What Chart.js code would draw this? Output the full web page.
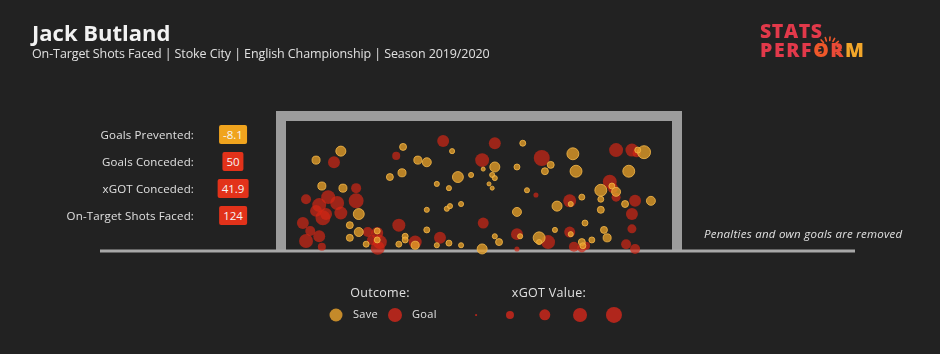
<!DOCTYPE html>
<html>
<head>
<meta charset="utf-8">
<script src="https://cdn.jsdelivr.net/npm/chart.js@4.4.1/dist/chart.umd.min.js"></script>
<style>
  body { margin:0; background:#222222; font-family:"Open Sans", sans-serif; color:#e8e8e8; }
  #wrap { position:relative; width:940px; height:354px; overflow:hidden; background:#222222; }
  #chart { position:absolute; left:0; top:0; }
  .t { position:absolute; white-space:nowrap; }
  .title { left:32px; top:17px; font-size:22px; font-weight:700; color:#f2f2f2; }
  .sub { left:32px; top:45px; font-size:12.5px; color:#e0e0e0; letter-spacing:-0.1px; }
  .lbl { right:746px; font-size:11.5px; line-height:16px; color:#e0e0e0; letter-spacing:0.15px; }
  .box { left:233px; transform:translateX(-50%); font-size:11.5px; line-height:19px; padding:0 4px; border-radius:2px; color:#f5f5f5; }
  .note { left:704px; top:226px; font-size:11.5px; font-style:italic; color:#e0e0e0; letter-spacing:0.25px; }
  .leg { font-size:12.5px; color:#e0e0e0; transform:translateX(-50%); letter-spacing:0.3px; }
  .dot { position:absolute; border-radius:50%; transform:translate(-50%,-50%); }
  .logo { left:760px; font-weight:800; font-size:19.5px; line-height:19px; }
</style>
</head>
<body>
<div id="wrap">
  <canvas id="chart" width="940" height="354"></canvas>

  <div class="t title">Jack Butland</div>
  <div class="t sub">On-Target Shots Faced | Stoke City | English Championship | Season 2019/2020</div>

  <svg class="t" style="left:814px;top:32px" width="32" height="32" viewBox="0 0 32 32">
    <g stroke="#f0582a" stroke-width="1.6" stroke-linecap="round" id="rays"></g>
  </svg>
  <div class="t logo" style="top:21px;color:#e2394a;letter-spacing:0.6px">STATS</div>
  <div class="t logo" style="top:40px;letter-spacing:1.6px"><span style="color:#e2394a">PERF</span><span style="color:#f0582a">O</span><span style="color:#ea4a38">R</span><span style="color:#f2a62a">M</span></div>

  <div class="t lbl" style="top:127px">Goals Prevented:</div>
  <div class="t lbl" style="top:154px">Goals Conceded:</div>
  <div class="t lbl" style="top:181px">xGOT Conceded:</div>
  <div class="t lbl" style="top:208px">On-Target Shots Faced:</div>
  <div class="t box" id="b0" style="top:125px;background:#f0a41e"></div>
  <div class="t box" id="b1" style="top:152px;background:#e2321a"></div>
  <div class="t box" id="b2" style="top:179px;background:#e2321a"></div>
  <div class="t box" id="b3" style="top:206px;background:#e2321a"></div>

  <div class="t note">Penalties and own goals are removed</div>

  <div class="t leg" style="left:380px;top:284px">Outcome:</div>
  <div class="t leg" style="left:549px;top:284px">xGOT Value:</div>
  <div class="dot" style="left:336px;top:315px;width:13px;height:13px;background:#c48a2a"></div>
  <div class="t" style="left:353px;top:306px;font-size:11px;color:#e0e0e0;letter-spacing:0.3px">Save</div>
  <div class="dot" style="left:395px;top:315px;width:14px;height:14px;background:#b0261c"></div>
  <div class="t" style="left:412px;top:306px;font-size:11px;color:#e0e0e0;letter-spacing:0.3px">Goal</div>
  <div id="sizeLeg"></div>
</div>

<script>
// summary figures
const statValues = ["-8.1", "50", "41.9", "124"];

// shot locations in metres across the goal mouth (0 = left post, 0 = ground), plus xGOT
const goalX = [0.91,1.33,0.38,0.80,0.63,0.97,1.33,1.04,0.70,0.32,0.46,0.63,0.38,0.68,1.55,1.73,1.78,1.74,2.14,2.45,
  2.92,2.98,2.09,3.72,3.74,3.96,4.85,4.74,5.38,4.38,5.38,4.97,4.38,5.46,5.61,6.26,6.56,6.65,6.14,6.20,
  6.26,6.62,6.56,6.56,6.45,6.62,0.76,1.63,0.57,5.69];
const goalY = [1.66,1.17,0.96,1.00,0.85,0.89,0.93,0.70,0.61,0.51,0.36,0.26,0.17,0.06,0.34,0.32,0.15,0.04,0.47,0.15,
  0.23,2.06,1.78,1.70,0.51,2.02,1.74,1.04,0.93,0.30,0.34,0.15,0.02,0.06,0.04,1.89,1.89,1.83,1.29,1.17,
  1.00,0.93,0.68,0.40,0.11,0.02,0.68,0.19,0.74,0.08];
const goalXgot = [0.44,0.31,0.31,0.60,0.60,0.60,0.69,0.52,0.69,0.44,0.31,0.44,0.60,0.20,0.31,0.44,0.60,0.60,0.52,0.52,
  0.44,0.44,0.20,0.60,0.37,0.44,0.79,0.08,0.52,0.44,0.37,0.60,0.08,0.31,0.25,0.60,0.52,0.20,0.60,0.31,
  0.25,0.44,0.44,0.25,0.31,0.31,0.44,0.31,0.44,0.20];

const saveX = [1.04,0.57,0.68,1.08,1.38,1.21,1.38,1.21,1.73,2.14,2.26,2.26,2.45,2.67,2.86,3.09,3.32,3.72,2.22,3.15,
  2.50,2.67,2.20,1.97,3.26,3.51,2.86,3.09,3.32,3.05,3.11,2.67,4.49,3.74,3.96,3.91,3.96,3.85,3.91,4.38,
  5.02,4.91,5.44,5.50,4.57,5.14,5.40,4.38,5.10,5.40,4.44,3.96,4.04,4.80,4.80,6.79,6.50,5.97,6.26,5.97,
  5.61,6.92,6.43,5.97,5.67,6.03,6.09,5.80,5.61,1.52,6.18,6.67,1.73,5.63];
const saveY = [1.87,1.70,1.21,1.17,0.68,0.47,0.34,0.23,0.36,0.11,0.26,0.19,0.09,0.38,0.09,0.13,0.09,0.02,1.95,1.87,
  1.70,1.66,1.46,1.38,1.38,1.42,1.25,1.17,0.87,0.78,0.83,0.76,2.02,1.53,1.57,1.42,1.36,1.25,1.17,1.57,
  1.61,1.49,1.82,1.49,1.13,0.83,0.87,0.72,0.38,0.30,0.26,0.26,0.15,0.23,0.15,1.85,1.49,1.13,1.10,0.96,
  1.00,0.93,0.87,0.76,0.51,0.38,0.23,0.19,0.15,0.11,1.21,1.89,0.19,0.08];
const saveXgot = [0.31,0.20,0.20,0.20,0.37,0.15,0.25,0.15,0.11,0.11,0.11,0.11,0.20,0.11,0.08,0.11,0.08,0.31,0.15,0.08,
  0.20,0.25,0.20,0.15,0.37,0.08,0.08,0.08,0.08,0.08,0.08,0.08,0.11,0.05,0.31,0.08,0.08,0.05,0.05,0.11,
  0.15,0.15,0.44,0.44,0.08,0.31,0.08,0.25,0.08,0.08,0.08,0.08,0.15,0.44,0.08,0.52,0.44,0.44,0.25,0.11,
  0.11,0.25,0.15,0.15,0.11,0.15,0.20,0.11,0.15,0.11,0.11,0.11,0.11,0.11];

// size legend
const legendXgot = [0.01, 0.2, 0.4, 0.6, 0.8];
const legendLeft = [476, 510, 545, 580, 614];

const GOAL_W = 7.32, GOAL_H = 2.44;
const rad = v => 9 * Math.sqrt(v);

statValues.forEach((v, i) => { document.getElementById("b" + i).textContent = v; });

// little sunburst round the O of the logo
const rays = document.getElementById("rays");
for (let a = -200; a <= 30; a += 23) {
  const t = a * Math.PI / 180;
  const l = document.createElementNS("http://www.w3.org/2000/svg", "line");
  l.setAttribute("x1", 15 + Math.cos(t) * 8.5); l.setAttribute("y1", 17 + Math.sin(t) * 8.5);
  l.setAttribute("x2", 15 + Math.cos(t) * 12); l.setAttribute("y2", 17 + Math.sin(t) * 12);
  rays.appendChild(l);
}

const sizeLeg = document.getElementById("sizeLeg");
legendXgot.forEach((v, i) => {
  const d = document.createElement("div");
  d.className = "dot";
  const s = Math.max(1.5, rad(v) * 2);
  d.style.cssText = `left:${legendLeft[i]}px;top:315px;width:${s}px;height:${s}px;background:#b0261c`;
  sizeLeg.appendChild(d);
});

const toPoints = (xs, ys, vs) => xs.map((x, i) => ({ x: x, y: ys[i], r: rad(vs[i]) }));

const goalFrame = {
  id: "goalFrame",
  beforeDatasetsDraw(chart) {
    const { ctx, chartArea: ca } = chart;
    ctx.save();
    ctx.fillStyle = "#9c9c9c";
    ctx.fillRect(ca.left - 10, ca.top - 10, ca.right - ca.left + 20, 10);
    ctx.fillRect(ca.left - 10, ca.top - 10, 10, ca.bottom - ca.top + 10);
    ctx.fillRect(ca.right, ca.top - 10, 10, ca.bottom - ca.top + 10);
    ctx.fillStyle = "#a8a8a8";
    ctx.fillRect(100, ca.bottom - 0.5, 755, 3);
    ctx.restore();
  }
};

new Chart(document.getElementById("chart"), {
  type: "bubble",
  data: {
    datasets: [
      {
        label: "Save",
        data: toPoints(saveX, saveY, saveXgot),
        backgroundColor: "rgba(228,158,40,0.78)",
        borderColor: "rgba(240,180,70,0.85)",
        borderWidth: 1,
        order: 0,
        clip: false
      },
      {
        label: "Goal",
        data: toPoints(goalX, goalY, goalXgot),
        backgroundColor: "rgba(214,38,20,0.68)",
        borderWidth: 0,
        order: 1,
        clip: false
      }
    ]
  },
  options: {
    responsive: false,
    animation: false,
    layout: { padding: { left: 286, right: 268, top: 121, bottom: 104 } },
    scales: {
      x: { type: "linear", min: 0, max: GOAL_W, display: false },
      y: { type: "linear", min: 0, max: GOAL_H, display: false }
    },
    plugins: { legend: { display: false }, tooltip: { enabled: false } }
  },
  plugins: [goalFrame]
});
</script>
</body>
</html>
